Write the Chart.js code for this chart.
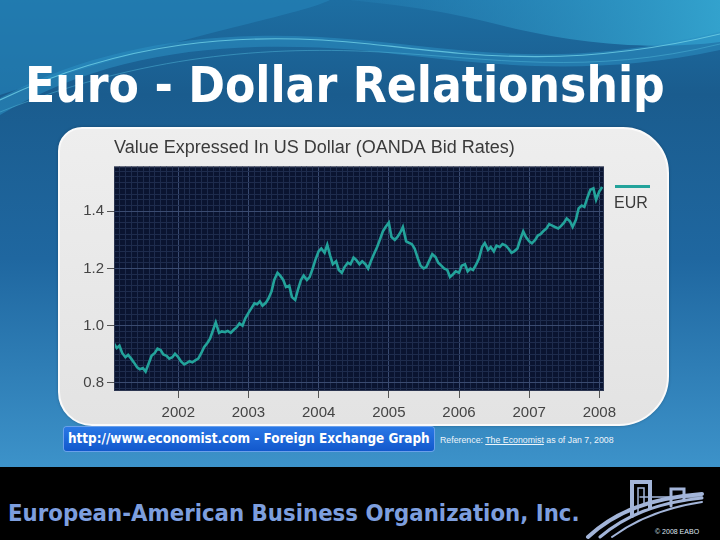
<!DOCTYPE html>
<html><head><meta charset="utf-8">
<script src="https://cdn.jsdelivr.net/npm/chart.js@4.4.1/dist/chart.umd.min.js"></script>
<style>
html,body{margin:0;padding:0;}
body{width:720px;height:540px;overflow:hidden;position:relative;background:#1d6395;font-family:"DejaVu Sans Condensed","DejaVu Sans",sans-serif;}
#bg{position:absolute;left:0;top:0;}
#title{position:absolute;left:25px;top:61px;color:#fff;font-weight:bold;font-size:49px;white-space:nowrap;line-height:49px;}
#panel{position:absolute;left:58px;top:127px;width:607px;height:295px;background:linear-gradient(#eeeeee,#e3e3e3);border:2px solid #fafafa;border-radius:24px 46px 50px 34px;box-shadow:0 0 3px rgba(0,0,0,0.25);}
#chartbox{position:absolute;left:58px;top:128px;width:612px;height:298px;}
#link{position:absolute;left:64px;top:427px;width:370px;height:24px;background:linear-gradient(#2a78e6,#1258cc);border-radius:3px;box-shadow:0 0 0 1px #6aa0ea;}
#linktxt{position:absolute;left:68px;top:430px;color:#fff;font-weight:bold;font-size:15px;line-height:18px;white-space:nowrap;}
#ref{position:absolute;left:440px;top:435px;color:#eef4fa;font-family:"Liberation Sans",Arial,sans-serif;font-size:8.5px;line-height:10px;white-space:nowrap;}
#ref u{text-decoration:underline;}
#footer{position:absolute;left:8px;top:499px;color:#7d9ede;font-weight:bold;font-size:24px;line-height:28px;white-space:nowrap;}
#copy{position:absolute;left:655px;top:528px;color:#dfe6f2;font-family:"Liberation Sans",Arial,sans-serif;font-size:7px;line-height:8px;white-space:nowrap;}
</style></head>
<body>
<svg id="bg" width="720" height="540">
<defs>
<linearGradient id="g1" x1="0" y1="0" x2="0" y2="1">
<stop offset="0" stop-color="#1d6ea2"/>
<stop offset="0.2" stop-color="#1a5c8e"/>
<stop offset="0.55" stop-color="#1f67a0"/>
<stop offset="1" stop-color="#3d93ca"/>
</linearGradient>
<linearGradient id="g2" x1="0" y1="0" x2="1" y2="0">
<stop offset="0" stop-color="#2a8cc0" stop-opacity="0.2"/>
<stop offset="1" stop-color="#35a8d2" stop-opacity="0.9"/>
</linearGradient>
</defs>
<rect width="720" height="470" fill="url(#g1)"/>
<path d="M0,0 H330 C300,15 200,30 0,95 Z" fill="#2380b5" opacity="0.7"/>
<path d="M350,0 H720 V42 C640,52 560,40 500,25 C440,10 400,5 350,0 Z" fill="url(#g2)"/>
<path d="M0,98 C110,40 230,28 360,40 C470,50 560,70 720,32 V50 C580,80 470,62 360,50 C230,40 110,50 0,115 Z" fill="#2c8fc2" opacity="0.55"/>
<path d="M0,100 C120,42 240,30 370,44 C470,55 570,70 720,34" stroke="#6fd0e6" stroke-width="1.2" fill="none" opacity="0.8"/>
<path d="M0,112 C130,60 250,45 380,52 C490,58 590,76 720,44" stroke="#4fb6d8" stroke-width="1" fill="none" opacity="0.5"/>
<rect y="467" width="720" height="73" fill="#000"/>
<g stroke="#a3b5d9" fill="none" stroke-linecap="round">
<path d="M632,516 V482 H650 V508" stroke-width="4"/>
<path d="M638,512 V488 H644 V505" stroke-width="1.5"/>
<path d="M671,506 V489 H684 V500" stroke-width="3"/>
<path d="M640,497 H702" stroke-width="1.5"/>
<path d="M588,537 C615,512 650,498 702,494" stroke-width="4"/>
<path d="M600,537 C625,516 655,503 702,498" stroke-width="3"/>
<path d="M612,537 C635,520 662,508 702,502" stroke-width="2"/>
</g>
</svg>
<div id="title">Euro - Dollar Relationship</div>
<div id="panel"></div>
<div id="chartbox"><canvas id="c" width="612" height="298"></canvas></div>
<div id="link"></div>
<div id="linktxt">http://www.economist.com - Foreign Exchange Graph</div>
<div id="ref">Reference: <u>The Economist</u> as of Jan 7, 2008</div>
<div id="footer">European-American Business Organization, Inc.</div>
<div id="copy">© 2008 EABO</div>
<script>
// ---------- data ----------
const chartTitle = "Value Expressed In US Dollar (OANDA Bid Rates)";
const seriesName = "EUR";
const dates = [
"2001-02-01","2001-02-15","2001-03-01","2001-03-15","2001-04-01","2001-04-15","2001-05-01","2001-05-15","2001-06-01","2001-06-15","2001-07-01","2001-07-15","2001-08-01","2001-08-15","2001-09-01","2001-09-15","2001-10-01","2001-10-15","2001-11-01","2001-11-15","2001-12-01","2001-12-15",
"2002-01-01","2002-01-15","2002-02-01","2002-02-15","2002-03-01","2002-03-15","2002-04-01","2002-04-15","2002-05-01","2002-05-15","2002-06-01","2002-06-15","2002-07-01","2002-07-15","2002-08-01","2002-08-15","2002-09-01","2002-09-15","2002-10-01","2002-10-15","2002-11-01","2002-11-15","2002-12-01","2002-12-15",
"2003-01-01","2003-01-15","2003-02-01","2003-02-15","2003-03-01","2003-03-15","2003-04-01","2003-04-15","2003-05-01","2003-05-15","2003-06-01","2003-06-15","2003-07-01","2003-07-15","2003-08-01","2003-08-15","2003-09-01","2003-09-15","2003-10-01","2003-10-15","2003-11-01","2003-11-15","2003-12-01","2003-12-15",
"2004-01-01","2004-01-15","2004-02-01","2004-02-15","2004-03-01","2004-03-15","2004-04-01","2004-04-15","2004-05-01","2004-05-15","2004-06-01","2004-06-15","2004-07-01","2004-07-15","2004-08-01","2004-08-15","2004-09-01","2004-09-15","2004-10-01","2004-10-15","2004-11-01","2004-11-15","2004-12-01","2004-12-15",
"2005-01-01","2005-01-15","2005-02-01","2005-02-15","2005-03-01","2005-03-15","2005-04-01","2005-04-15","2005-05-01","2005-05-15","2005-06-01","2005-06-15","2005-07-01","2005-07-15","2005-08-01","2005-08-15","2005-09-01","2005-09-15","2005-10-01","2005-10-15","2005-11-01","2005-11-15","2005-12-01","2005-12-15",
"2006-01-01","2006-01-15","2006-02-01","2006-02-15","2006-03-01","2006-03-15","2006-04-01","2006-04-15","2006-05-01","2006-05-15","2006-06-01","2006-06-15","2006-07-01","2006-07-15","2006-08-01","2006-08-15","2006-09-01","2006-09-15","2006-10-01","2006-10-15","2006-11-01","2006-11-15","2006-12-01","2006-12-15",
"2007-01-01","2007-01-15","2007-02-01","2007-02-15","2007-03-01","2007-03-15","2007-04-01","2007-04-15","2007-05-01","2007-05-15","2007-06-01","2007-06-15","2007-07-01","2007-07-15","2007-08-01","2007-08-15","2007-09-01","2007-09-15","2007-10-01","2007-10-15","2007-11-01","2007-11-15","2007-12-01","2007-12-15",
"2008-01-01","2008-01-07","2008-01-15"
];
const eur = [
0.937,0.922,0.930,0.905,0.890,0.898,0.885,0.872,0.855,0.848,0.852,0.840,0.870,0.895,0.905,0.920,0.915,0.900,0.895,0.885,0.890,0.902,
0.890,0.875,0.865,0.870,0.876,0.872,0.880,0.885,0.905,0.925,0.940,0.955,0.985,1.012,0.975,0.980,0.978,0.982,0.975,0.985,0.995,1.008,1.000,1.025,
1.045,1.060,1.078,1.075,1.085,1.070,1.080,1.095,1.120,1.160,1.185,1.175,1.160,1.135,1.140,1.100,1.090,1.125,1.160,1.175,1.160,1.170,1.200,1.230,
1.260,1.270,1.255,1.283,1.245,1.215,1.225,1.195,1.185,1.205,1.220,1.215,1.238,1.230,1.215,1.225,1.215,1.200,1.228,1.250,1.275,1.300,1.330,1.345,
1.360,1.310,1.300,1.310,1.325,1.345,1.295,1.290,1.285,1.270,1.235,1.210,1.200,1.205,1.230,1.250,1.240,1.220,1.210,1.200,1.195,1.170,1.180,1.190,
1.185,1.210,1.215,1.190,1.200,1.195,1.215,1.235,1.275,1.289,1.265,1.275,1.260,1.280,1.275,1.285,1.280,1.270,1.255,1.260,1.270,1.300,1.330,1.310,
1.295,1.288,1.300,1.315,1.320,1.330,1.340,1.355,1.350,1.345,1.340,1.348,1.360,1.375,1.365,1.345,1.370,1.410,1.420,1.415,1.450,1.475,1.480,1.440,
1.470,1.475,1.485
];
const yearTicks = [2002, 2003, 2004, 2005, 2006, 2007, 2008];
const valueTicks = [0.8, 1.0, 1.2, 1.4];
const xRange = [2001.084, 2008.066];
const yRange = [0.772, 1.556];

// ---------- helpers ----------
function toYear(s){
  const [y,m,d] = s.split('-').map(Number);
  const t0 = Date.UTC(y,0,1), t1 = Date.UTC(y+1,0,1);
  return y + (Date.UTC(y,m-1,d) - t0)/(t1 - t0);
}
function near(v, arr){ return arr.some(a => Math.abs(a - v) < 1e-6); }
function fit(id, target){
  const el = document.getElementById(id);
  const w = el.getBoundingClientRect().width;
  const fs = parseFloat(getComputedStyle(el).fontSize);
  el.style.fontSize = (fs*target/w) + 'px';
}
fit('title', 640);
fit('footer', 572);
fit('linktxt', 362);
fit('ref', 174);

const lineColor = '#23a39b';
const plotBg = {
  id:'plotBg',
  beforeDraw(chart){
    const a = chart.chartArea, c = chart.ctx;
    c.save(); c.fillStyle = '#0a1430'; c.fillRect(a.left, a.top, a.right-a.left, a.bottom-a.top); c.restore();
  },
  afterDraw(chart){
    const a = chart.chartArea, c = chart.ctx;
    c.save();
    c.strokeStyle = '#2b3550'; c.lineWidth = 1;
    c.strokeRect(a.left+0.5, a.top+0.5, a.right-a.left-1, a.bottom-a.top-1);
    const ds = chart.data.datasets[0];
    const lx = a.right + 11, ly = a.top + 20;
    c.strokeStyle = ds.borderColor; c.lineWidth = 3;
    c.beginPath(); c.moveTo(lx, ly); c.lineTo(lx+35, ly); c.stroke();
    c.fillStyle = '#3a3a3a'; c.font = '16px "Liberation Sans", Arial, sans-serif';
    c.textBaseline = 'middle'; c.textAlign = 'left';
    c.fillText(ds.label, lx - 1, ly + 17);
    c.restore();
  }
};

new Chart(document.getElementById('c'), {
  type: 'line',
  data: { datasets: [{
    label: seriesName,
    data: dates.map((d,i) => ({x: toYear(d), y: eur[i]})),
    borderColor: lineColor, borderWidth: 2.6, pointRadius: 0, tension: 0, fill: false
  }]},
  options: {
    responsive: false, animation: false, devicePixelRatio: 1,
    layout: { padding: { left: 0, right: 66, top: 0, bottom: 0 } },
    plugins: {
      legend: { display: false }, tooltip: { enabled: false },
      title: { display: true, text: chartTitle, align: 'start', fullSize: false,
        color: '#3a3a3a', font: { family: '"Liberation Sans", Arial, sans-serif', size: 18, weight: 'normal' },
        padding: { top: 9, bottom: 8 } }
    },
    scales: {
      x: {
        type: 'linear', min: xRange[0], max: xRange[1],
        afterBuildTicks(s){
          const t = [];
          for (let y = Math.floor(xRange[0]); y <= Math.ceil(xRange[1]); y++)
            for (let m = 0; m < 12; m++){ const v = y + m/12; if (v > xRange[0] && v < xRange[1]) t.push({value: v}); }
          s.ticks = t;
        },
        afterFit(s){ s.height = 35; },
        border: { display: false },
        grid: {
          color: c => near(c.tick.value, yearTicks) ? '#3a4b70' : '#1e2c4d',
          lineWidth: 1, drawTicks: true, tickLength: 7,
          tickColor: c => near(c.tick.value, yearTicks) ? '#555555' : 'rgba(0,0,0,0)'
        },
        ticks: {
          autoSkip: false, maxRotation: 0, minRotation: 0, padding: 6,
          color: '#444', font: { family: '"Liberation Sans", Arial, sans-serif', size: 15 },
          callback: v => near(v, yearTicks) ? String(Math.round(v)) : ''
        }
      },
      y: {
        type: 'linear', min: yRange[0], max: yRange[1],
        afterBuildTicks(s){
          const t = [];
          for (let k = 39; k <= 77; k++){ const v = k*0.02; if (v > yRange[0] && v < yRange[1]) t.push({value: v}); }
          s.ticks = t;
        },
        afterFit(s){ s.width = 56; },
        border: { display: false },
        grid: {
          color: c => near(c.tick.value, valueTicks) ? '#3a4b70' : '#1e2c4d',
          lineWidth: 1, drawTicks: true, tickLength: 7,
          tickColor: c => near(c.tick.value, valueTicks) ? '#555555' : 'rgba(0,0,0,0)'
        },
        ticks: {
          autoSkip: false, padding: 3,
          color: '#444', font: { family: '"Liberation Sans", Arial, sans-serif', size: 15 },
          callback: v => near(v, valueTicks) ? v.toFixed(1) : ''
        }
      }
    }
  },
  plugins: [plotBg]
});
</script>
</body></html>
